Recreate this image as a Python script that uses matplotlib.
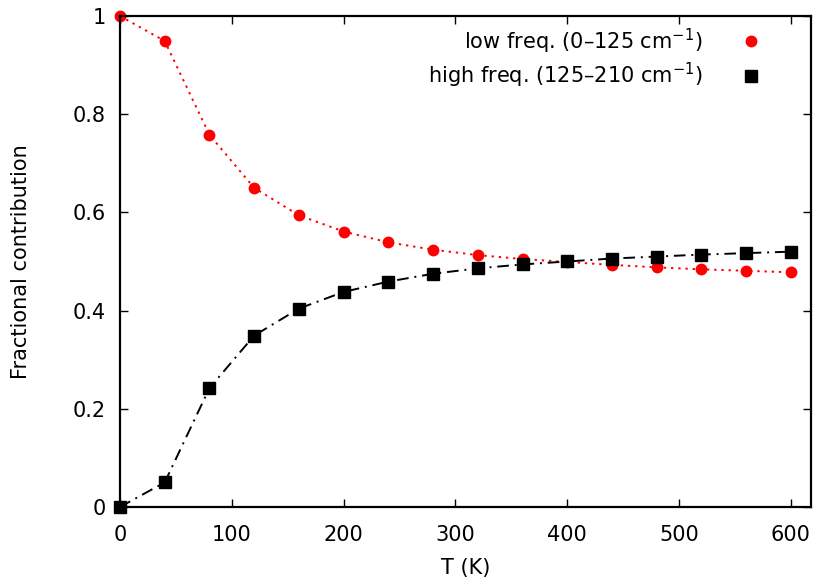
import matplotlib
matplotlib.use("Agg")
import matplotlib.pyplot as plt
from matplotlib.ticker import FuncFormatter

# Температуры (K)
T = [0, 40, 80, 120, 160, 200, 240, 280, 320, 360, 400, 440, 480, 520, 560, 600]

# Вклад низкочастотных мод (0-125 см^-1)
low_freq = [1.0, 0.949, 0.758, 0.650, 0.594, 0.561, 0.539, 0.524, 0.513, 0.505,
            0.499, 0.493, 0.488, 0.484, 0.481, 0.478]

# Вклад высокочастотных мод (125-210 см^-1)
high_freq = [0.0, 0.050, 0.242, 0.349, 0.404, 0.438, 0.459, 0.475, 0.486, 0.494,
             0.500, 0.506, 0.510, 0.514, 0.517, 0.520]

plt.rcParams["font.family"] = ["DejaVu Sans"]

fig = plt.figure(figsize=(8.14, 5.79), dpi=100)
ax = fig.add_axes([0.1474, 0.1244, 0.8489, 0.848])

# Линии
ax.plot(T, low_freq, color="red", linestyle=(0, (1.2, 2.5)), linewidth=1.4)
ax.plot(T, high_freq, color="black", linestyle=(0, (6, 3, 1, 3)), linewidth=1.4)

# Точки
ax.plot(T, low_freq, "o", color="red", markersize=7.5, clip_on=False,
        label="low freq. (0–125 cm$^{-1}$)")
ax.plot(T, high_freq, "s", color="black", markersize=8.5, clip_on=False,
        label="high freq. (125–210 cm$^{-1}$)")

ax.set_xlim(0, 618)
ax.set_ylim(0, 1)
ax.set_xticks(range(0, 601, 100))
ax.set_yticks([0, 0.2, 0.4, 0.6, 0.8, 1.0])
ax.yaxis.set_major_formatter(FuncFormatter(lambda v, p: f"{v:g}"))

ax.tick_params(direction="in", top=True, right=True, length=6, width=1,
               labelsize=15)
ax.tick_params(axis="x", pad=13)
ax.tick_params(axis="y", pad=10)
for s in ax.spines.values():
    s.set_linewidth(1.6)

ax.set_xlabel("T (K)", fontsize=15, labelpad=9)
ax.set_ylabel("Fractional contribution", fontsize=15, labelpad=30)

ax.legend(loc="upper right", bbox_to_anchor=(0.958, 1.017), frameon=False,
          markerfirst=False, fontsize=15, handlelength=1.2, handletextpad=1.7,
          labelspacing=0.27)

fig.savefig("out.png", dpi=100)
